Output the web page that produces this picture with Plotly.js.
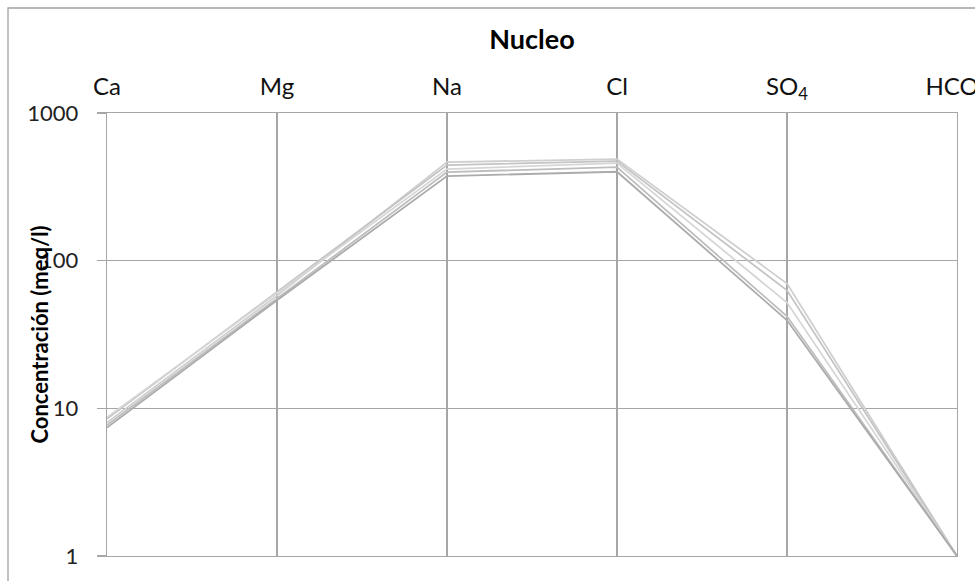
<!DOCTYPE html>
<html>
<head>
<meta charset="utf-8">
<script src="https://cdn.plot.ly/plotly-3.0.1.min.js"></script>
<style>html,body{margin:0;padding:0;background:#fff;}#chart{width:975px;height:581px;}</style>
</head>
<body>
<div id="chart"></div>
<script>
const categories = ["Ca", "Mg", "Na", "Cl", "SO4", "HCO3"];
const categoryLabels = ["Ca", "Mg", "Na", "Cl", "SO<sub>4</sub>", "HCO<sub>3</sub>"];
const yTickValues = [1, 10, 100, 1000];
const yTickLabels = ["1", "10", "100", "1000"];

const sample1 = [8.0, 58, 465, 487, 70, 1];
const sample2 = [8.5, 61, 444, 472, 63, 1];
const sample3 = [8.7, 60, 417, 458, 52, 1];
const sample4 = [7.7, 55, 398, 430, 42, 1];
const sample5 = [7.4, 54, 374, 400, 39.5, 1];

const samples = [sample1, sample2, sample3, sample4, sample5];
const lineColors = ["#cfcfcf", "#c4c4c4", "#d6d6d6", "#bdbdbd", "#ababab"];

const traces = samples.map((vals, i) => ({
  type: "scatter",
  mode: "lines",
  x: categories,
  y: vals,
  line: {color: lineColors[i], width: 1.8},
  showlegend: false,
  hoverinfo: "skip"
}));

const fontFam = "Lato, 'Open Sans', sans-serif";
const gridCol = "#a6a6a6";

const layout = {
  width: 975,
  height: 581,
  margin: {l: 107, r: 18, t: 113, b: 25},
  paper_bgcolor: "#fff",
  plot_bgcolor: "#fff",
  font: {family: fontFam, color: "#000"},
  title: {
    text: "<b>Nucleo</b>",
    font: {size: 27, family: fontFam, color: "#000"},
    x: 0.5, xref: "paper",
    y: 1 - 40/581, yref: "container", yanchor: "middle"
  },
  xaxis: {
    type: "category",
    categoryorder: "array",
    categoryarray: categories,
    range: [0, 5],
    side: "top",
    tickmode: "array",
    tickvals: categories,
    ticktext: categoryLabels,
    tickfont: {size: 24, family: fontFam, color: "#111"},
    ticks: "",
    ticklabelstandoff: 7,
    showgrid: true,
    gridcolor: gridCol,
    gridwidth: 1.3,
    showline: true,
    mirror: true,
    linecolor: gridCol,
    linewidth: 1.3,
    zeroline: false,
    fixedrange: true
  },
  yaxis: {
    type: "log",
    range: [0, 3],
    tickmode: "array",
    tickvals: yTickValues,
    ticktext: yTickLabels,
    tickfont: {size: 22, family: fontFam, color: "#222"},
    ticks: "outside",
    ticklen: 9,
    tickcolor: gridCol,
    tickwidth: 1.3,
    ticklabelstandoff: 14,
    showgrid: true,
    gridcolor: gridCol,
    gridwidth: 1.3,
    showline: true,
    mirror: true,
    linecolor: gridCol,
    linewidth: 1.3,
    zeroline: false,
    automargin: false,
    fixedrange: true
  },
  annotations: [{
    text: "<b>Concentración (meq/l)</b>",
    textangle: -90,
    xref: "paper", yref: "paper",
    x: (39 - 107) / 850, y: 0.5,
    xanchor: "center", yanchor: "middle",
    showarrow: false,
    font: {size: 22, family: fontFam, color: "#000"}
  }],
  shapes: [{
    type: "rect",
    xref: "paper", yref: "paper",
    x0: (8 - 107) / 850, x1: 1.2,
    y0: -0.2, y1: (556 - 8) / 443,
    line: {color: "#a0a0a0", width: 1.3},
    fillcolor: "rgba(0,0,0,0)",
    layer: "below"
  }]
};

Plotly.newPlot("chart", traces, layout, {displayModeBar: false, staticPlot: true});
</script>
</body>
</html>
